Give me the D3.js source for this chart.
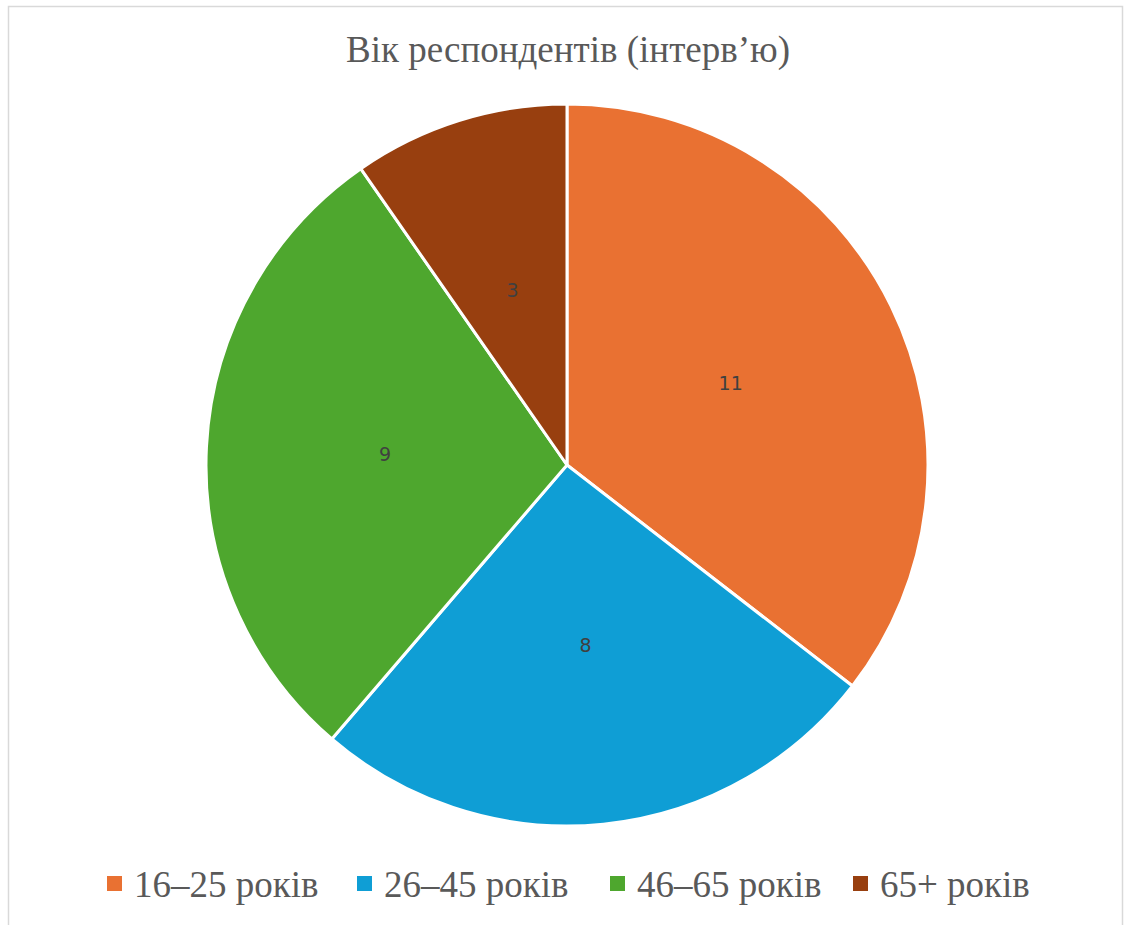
<!DOCTYPE html>
<html>
<head>
<meta charset="utf-8">
<script src="https://cdn.jsdelivr.net/npm/d3@7"></script>
<style>
  body { margin: 0; background: #fff; }
  .title { font-family: "Liberation Serif", serif; fill: #595959; }
  .legend-label { font-family: "Liberation Serif", serif; fill: #595959; }
  .slice-label { font-family: "DejaVu Sans", sans-serif; fill: #404040; }
</style>
</head>
<body>
<div id="chart"></div>
<script>
// Data
const categories = ["16–25 років", "26–45 років", "46–65 років", "65+ років"]
const values = [11, 8, 9, 3]
const colors = ["#E97132", "#0F9ED5", "#4EA72E", "#983F0F"]
const chartTitle = "Вік респондентів (інтерв’ю)"

const dimensions = {
    width: 1124,
    height: 925,
    centerX: 567,
    centerY: 465,
    radius: 361,
}

const svg = d3.select("#chart")
    .append("svg")
    .attr("width", dimensions.width)
    .attr("height", dimensions.height)

// chart frame
svg.append("rect")
    .attr("x", 8.5)
    .attr("y", 6.5)
    .attr("width", 1114)
    .attr("height", 940)
    .attr("fill", "#fff")
    .attr("stroke", "#d9d9d9")
    .attr("stroke-width", 1.5)

svg.append("text")
    .attr("class", "title")
    .attr("x", dimensions.centerX + 1)
    .attr("y", 62)
    .attr("text-anchor", "middle")
    .style("font-size", "37px")
    .text(chartTitle)

const colorScale = d3.scaleOrdinal()
    .domain(categories)
    .range(colors)

const pie = d3.pie()
    .sort(null)
    .value((d, i) => values[i])

const arcs = pie(categories)

const arcGenerator = d3.arc()
    .innerRadius(0)
    .outerRadius(dimensions.radius)

const labelArc = d3.arc()
    .innerRadius(dimensions.radius * 0.505)
    .outerRadius(dimensions.radius * 0.505)

const bounds = svg.append("g")
    .attr("transform", `translate(${dimensions.centerX}, ${dimensions.centerY})`)

bounds.selectAll(".slice")
    .data(arcs)
    .enter().append("path")
    .attr("class", "slice")
    .attr("d", arcGenerator)
    .attr("fill", d => colorScale(d.data))
    .attr("stroke", "#fff")
    .attr("stroke-width", 3)
    .attr("stroke-linejoin", "round")

bounds.selectAll(".slice-label")
    .data(arcs)
    .enter().append("text")
    .attr("class", "slice-label")
    .attr("transform", d => `translate(${labelArc.centroid(d)})`)
    .attr("text-anchor", "middle")
    .attr("dy", "0.3em")
    .style("font-size", "19px")
    .text(d => d.value)

// legend
const legendX = [107, 357, 610, 853]
const legendY = 884
const legend = svg.append("g")

const items = legend.selectAll("g")
    .data(categories)
    .enter().append("g")
    .attr("transform", (d, i) => `translate(${legendX[i]}, ${legendY})`)

items.append("rect")
    .attr("x", 0)
    .attr("y", -8)
    .attr("width", 15)
    .attr("height", 15)
    .attr("fill", d => colorScale(d))

items.append("text")
    .attr("class", "legend-label")
    .attr("x", 27)
    .attr("y", 13)
    .style("font-size", "37px")
    .text(d => d)
</script>
</body>
</html>
